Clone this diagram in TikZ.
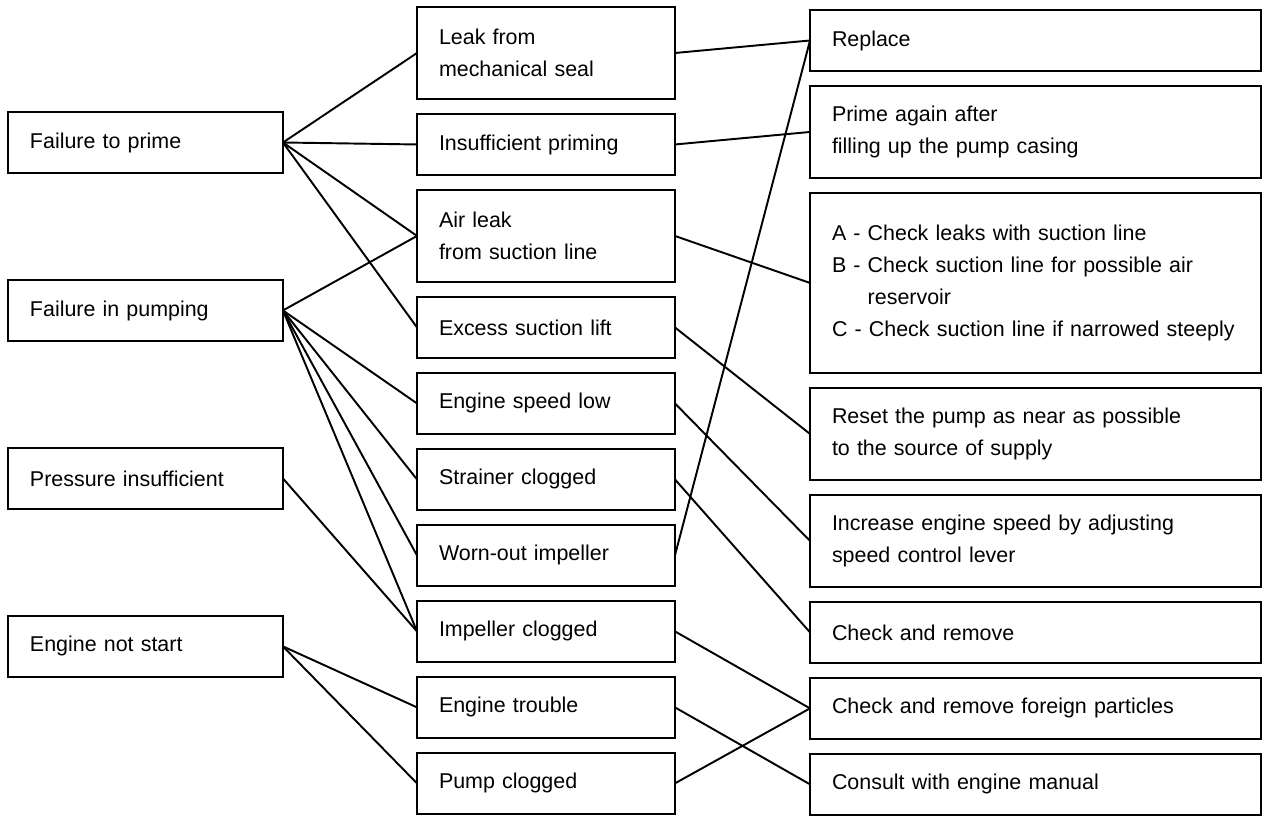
\documentclass[tikz,border=0pt]{standalone}
\usepackage{fontspec}
\setmainfont{Liberation Sans}
\usetikzlibrary{positioning}

\begin{document}
\begin{tikzpicture}[x=0.02cm,y=-0.02cm,line width=1.1pt,node distance=0.3cm]
  \tikzstyle{box}=[rectangle,draw=black,text=black,align=left,inner xsep=0.44cm,outer sep=0pt,
                   minimum height=1.22cm,font=\fontsize{12.2}{18.2}\selectfont]
  \tikzstyle{tall}=[minimum height=1.84cm]
  \tikzstyle{cause}=[box,text width=4.62cm]
  \tikzstyle{fault}=[box,text width=4.28cm]
  \tikzstyle{remedy}=[box,text width=8.14cm]

  \useasboundingbox (0,0) rectangle (1263,817);

  \node[cause,anchor=north west] (prime) at (8,112) {Failure to prime};
  \node[cause]         (pumping) [below=2.14cm of prime] {Failure in pumping};
  \node[cause]         (pressure) [below=2.14cm of pumping] {Pressure insufficient};
  \node[cause]         (nostart) [below=2.14cm of pressure] {Engine not start};

  \node[fault,tall,anchor=north west] (seal) at (417,7) {Leak from\\mechanical seal};
  \node[fault]         (priming) [below=of seal] {Insufficient priming};
  \node[fault,tall]    (airleak) [below=of priming] {Air leak\\from suction line};
  \node[fault]         (lift) [below=of airleak] {Excess suction lift};
  \node[fault]         (speed) [below=of lift] {Engine speed low};
  \node[fault]         (strainer) [below=of speed] {Strainer clogged};
  \node[fault]         (worn) [below=of strainer] {Worn-out impeller};
  \node[fault]         (impclog) [below=of worn] {Impeller clogged};
  \node[fault]         (trouble) [below=of impclog] {Engine trouble};
  \node[fault]         (pumpclog) [below=of trouble] {Pump clogged};

  \node[remedy,anchor=north west] (replace) at (810,10) {Replace};
  \node[remedy,tall]   (reprime) [below=of replace] {Prime again after\\filling up the pump casing};
  \node[remedy,minimum height=3.6cm] (checks) [below=of reprime]
       {A - Check leaks with suction line\\B - Check suction line for possible air\\
        \hphantom{B - }reservoir\\C - Check suction line if narrowed steeply};
  \node[remedy,tall]   (reset) [below=of checks] {Reset the pump as near as possible\\to the source of supply};
  \node[remedy,tall]   (increase) [below=of reset] {Increase engine speed by adjusting\\speed control lever};
  \node[remedy]        (remove) [below=of increase] {Check and remove};
  \node[remedy]        (foreign) [below=of remove] {Check and remove foreign particles};
  \node[remedy]        (consult) [below=of foreign] {Consult with engine manual};

  \path (prime.east) edge (seal.west)
                     edge (priming.west)
                     edge (airleak.west)
                     edge (lift.west)
        (pumping.east) edge (airleak.west)
                       edge (speed.west)
                       edge (strainer.west)
                       edge (worn.west)
                       edge (impclog.west)
        (pressure.east) edge (impclog.west)
        (nostart.east) edge (trouble.west)
                       edge (pumpclog.west)
        (seal.east) edge (replace.west)
        (priming.east) edge (reprime.west)
        (airleak.east) edge (checks.west)
        (lift.east) edge (reset.west)
        (speed.east) edge (increase.west)
        (strainer.east) edge (remove.west)
        (worn.east) edge (replace.west)
        (impclog.east) edge (foreign.west)
        (trouble.east) edge (consult.west)
        (pumpclog.east) edge (foreign.west);
\end{tikzpicture}
\end{document}
